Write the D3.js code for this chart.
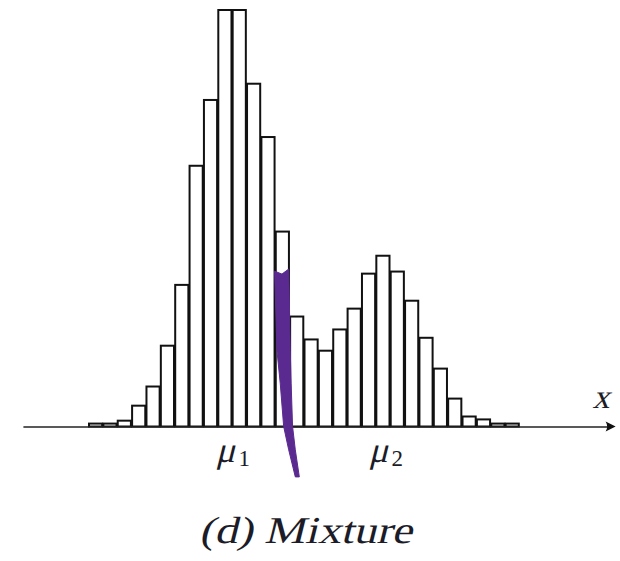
<!DOCTYPE html>
<html>
<head>
<meta charset="utf-8">
<script src="https://cdn.jsdelivr.net/npm/d3@7"></script>
<style>
  html, body { margin: 0; padding: 0; background: #ffffff; }
  svg { display: block; }
  .serif { font-family: "Liberation Serif", "DejaVu Serif", serif; font-style: normal; }
</style>
</head>
<body>
<svg id="chart" width="620" height="561"></svg>
<script>
// ---- data (bin index -> count, arbitrary units) ----
const binIndex = d3.range(30);
const counts = [0.7, 0.7, 1.4, 5.0, 9.6, 19.4, 34.0, 62.6, 78.4, 100, 100, 82.3, 69.5, 46.8,
                26.4, 20.9, 18.2, 23.3, 28.3, 36.7, 41.0, 37.2, 30.2, 21.3, 13.9, 6.7, 2.4, 1.7, 0.7, 0.7];
const meanPositions = [9.5, 20.15];
const meanLabels = ["1", "2"];
const axisExtent = [-4.6, 36.1];
const axisLabel = "x";
const caption = "(d) Mixture";
// hand-drawn purple annotation stroke, in data units (bin, count)
const strokeLeft = [[12.92, 37.3], [13.08, 18.3], [13.31, 10.4], [13.55, 0], [13.90, -5.6], [14.36, -12.1]];
const strokeRight = [[14.64, -12.1], [14.36, -5.6], [14.17, 0], [14.07, 10.4], [14.01, 18.3], [13.90, 37.8], [13.43, 36.6]];

const svg = d3.select("#chart");
const x = d3.scaleLinear().domain([0, 30]).range([89, 520]);
const y = d3.scaleLinear().domain([0, 100]).range([426.5, 10]);
const bw = x(1) - x(0);

// bars
svg.append("g").selectAll("rect")
  .data(binIndex)
  .join("rect")
  .attr("x", i => x(i))
  .attr("y", i => y(counts[i]))
  .attr("width", bw - 1.2)
  .attr("height", i => y(0) - y(counts[i]))
  .attr("fill", "#ffffff")
  .attr("stroke", "#111")
  .attr("stroke-width", 2);

// axis line with arrow
const axisScale = d3.scaleLinear().domain(axisExtent).range([x(axisExtent[0]), x(axisExtent[1])]);
const axisG = svg.append("g").attr("transform", `translate(0,${y(0)})`)
  .call(d3.axisBottom(axisScale).tickValues([]).tickSizeOuter(0));
axisG.select(".domain").attr("stroke", "#222").attr("stroke-width", 1.6);

const tipX = x(axisExtent[1]) + 8;
svg.append("path")
  .attr("d", `M${tipX},${y(0)} L${tipX - 10},${y(0) - 5} Q${tipX - 7},${y(0)} ${tipX - 10},${y(0) + 5} Z`)
  .attr("fill", "#111");

// oblique serif text helper (skewed upright serif)
function obliqueText(px, py, str, size, anchor, skew) {
  const g = svg.append("g").attr("transform", `translate(${px},${py}) skewX(${skew})`);
  return g.append("text")
    .attr("class", "serif")
    .attr("x", 0).attr("y", 0)
    .attr("text-anchor", anchor)
    .style("font-size", size + "px")
    .attr("fill", "#1c1c28")
    .text(str);
}

// axis label
obliqueText(601, 408, axisLabel, 34, "middle", -14);

// mean labels
meanPositions.forEach((m, k) => {
  obliqueText(x(m), 462, "\u03BC", 36, "middle", -14);
  svg.append("text")
    .attr("class", "serif")
    .attr("x", x(m) + 13).attr("y", 466)
    .style("font-size", "23px")
    .attr("fill", "#1c1c28")
    .text(meanLabels[k]);
});

// purple annotation stroke
const pts = strokeLeft.concat(strokeRight).map(d => [x(d[0]), y(d[1])]);
svg.append("path")
  .attr("d", d3.line()(pts) + "Z")
  .attr("fill", "#5b2a91")
  .attr("stroke", "#5b2a91")
  .attr("stroke-width", 1)
  .attr("stroke-linejoin", "round");

// caption
obliqueText(197 + 0.25 * 8, 543, caption, 38, "start", -14)
  .attr("textLength", 213)
  .attr("lengthAdjust", "spacingAndGlyphs");
</script>
</body>
</html>
